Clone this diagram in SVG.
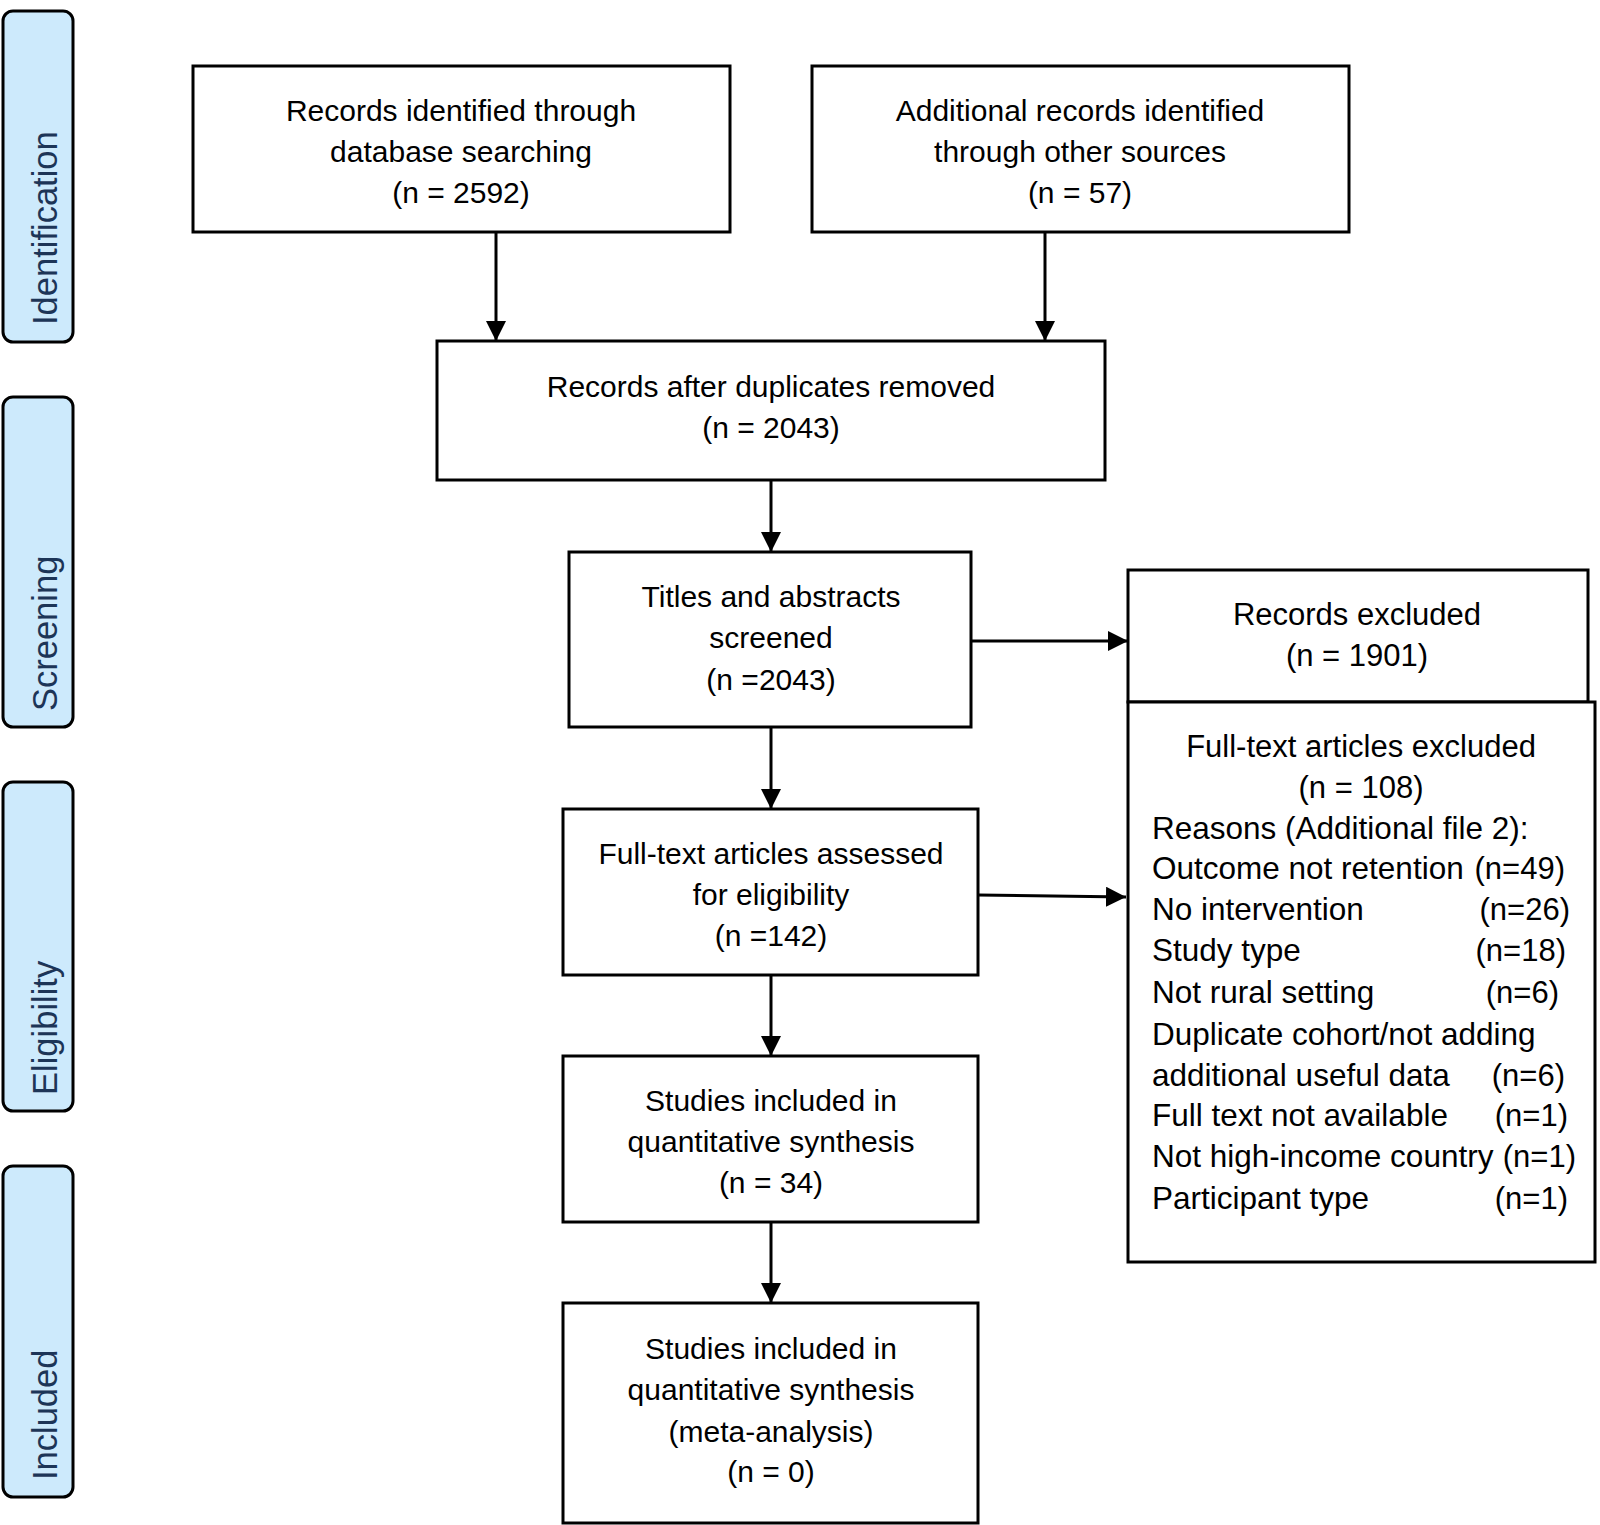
<svg xmlns="http://www.w3.org/2000/svg" width="1600" height="1525" viewBox="0 0 1600 1525">
<defs>
<style>
.box{fill:#fff;stroke:#000;stroke-width:3}
.phase{fill:#cdeafc;stroke:#000;stroke-width:3}
.ph{font-family:"Liberation Sans",Arial,sans-serif;font-size:34.5px;fill:#1d3557}
.t{font-family:"Liberation Sans",Arial,sans-serif;font-size:30px;fill:#000;text-anchor:middle}
.l{font-family:"Liberation Sans",Arial,sans-serif;font-size:31.5px;fill:#000}
.r{font-family:"Liberation Sans",Arial,sans-serif;font-size:31px;fill:#000;text-anchor:end}
.c{stroke:#000;stroke-width:3;fill:none;marker-end:url(#ah)}
</style>
<marker id="ah" markerUnits="userSpaceOnUse" markerWidth="20" markerHeight="20" viewBox="0 0 20 20" refX="20" refY="10" orient="auto">
<path d="M0,0 L20,10 L0,20 z" fill="#000"/>
</marker>
</defs>
<rect width="1600" height="1525" fill="#fff"/>

<g id="phase-identification"><rect class="phase" x="3" y="11" width="70" height="331" rx="10"/><text class="ph" transform="translate(57,325) rotate(-90)">Identification</text></g>
<g id="phase-screening"><rect class="phase" x="3" y="397" width="70" height="330" rx="10"/><text class="ph" transform="translate(57,711) rotate(-90)">Screening</text></g>
<g id="phase-eligibility"><rect class="phase" x="3" y="782" width="70" height="329" rx="10"/><text class="ph" transform="translate(57,1095) rotate(-90)">Eligibility</text></g>
<g id="phase-included"><rect class="phase" x="3" y="1166" width="70" height="331" rx="10"/><text class="ph" transform="translate(57,1480) rotate(-90)">Included</text></g>

<g id="connectors">
<line class="c" x1="496" y1="232" x2="496" y2="341"/>
<line class="c" x1="1045" y1="232" x2="1045" y2="341"/>
<line class="c" x1="771" y1="480" x2="771" y2="552"/>
<line class="c" x1="971" y1="641" x2="1128" y2="641"/>
<line class="c" x1="771" y1="727" x2="771" y2="809"/>
<line class="c" x1="978" y1="895" x2="1126" y2="897"/>
<line class="c" x1="771" y1="975" x2="771" y2="1056"/>
<line class="c" x1="771" y1="1222" x2="771" y2="1303"/>
</g>

<g id="db-records"><rect class="box" x="193" y="66" width="537" height="166"/>
<text class="t" x="461" y="121">Records identified through</text>
<text class="t" x="461" y="162">database searching</text>
<text class="t" x="461" y="203">(n = 2592)</text></g>

<g id="other-records"><rect class="box" x="812" y="66" width="537" height="166"/>
<text class="t" x="1080" y="121">Additional records identified</text>
<text class="t" x="1080" y="162">through other sources</text>
<text class="t" x="1080" y="203">(n = 57)</text></g>

<g id="dedup"><rect class="box" x="437" y="341" width="668" height="139"/>
<text class="t" x="771" y="397">Records after duplicates removed</text>
<text class="t" x="771" y="438">(n = 2043)</text></g>

<g id="screened"><rect class="box" x="569" y="552" width="402" height="175"/>
<text class="t" x="771" y="607">Titles and abstracts</text>
<text class="t" x="771" y="648">screened</text>
<text class="t" x="771" y="690">(n =2043)</text></g>

<g id="records-excluded"><rect class="box" x="1128" y="570" width="460" height="132"/>
<text class="t" x="1357" y="625" style="font-size:31px">Records excluded</text>
<text class="t" x="1357" y="666" style="font-size:31px">(n = 1901)</text></g>

<g id="fulltext-excluded"><rect class="box" x="1128" y="702" width="467" height="560"/>
<text class="t" x="1361" y="757" style="font-size:31px">Full-text articles excluded</text>
<text class="t" x="1361" y="798" style="font-size:31px">(n = 108)</text>
<text class="l" x="1152" y="839">Reasons (Additional file 2):</text>
<text class="l" x="1152" y="879">Outcome not retention</text><text class="r" x="1565" y="879">(n=49)</text>
<text class="l" x="1152" y="920">No intervention</text><text class="r" x="1570" y="920">(n=26)</text>
<text class="l" x="1152" y="961">Study type</text><text class="r" x="1566" y="961">(n=18)</text>
<text class="l" x="1152" y="1003">Not rural setting</text><text class="r" x="1559" y="1003">(n=6)</text>
<text class="l" x="1152" y="1045">Duplicate cohort/not adding</text>
<text class="l" x="1152" y="1086">additional useful data</text><text class="r" x="1565" y="1086">(n=6)</text>
<text class="l" x="1152" y="1126">Full text not available</text><text class="r" x="1568" y="1126">(n=1)</text>
<text class="l" x="1152" y="1167">Not high-income country</text><text class="r" x="1576" y="1167">(n=1)</text>
<text class="l" x="1152" y="1209">Participant type</text><text class="r" x="1568" y="1209">(n=1)</text></g>

<g id="assessed"><rect class="box" x="563" y="809" width="415" height="166"/>
<text class="t" x="771" y="864">Full-text articles assessed</text>
<text class="t" x="771" y="905">for eligibility</text>
<text class="t" x="771" y="946">(n =142)</text></g>

<g id="qualitative"><rect class="box" x="563" y="1056" width="415" height="166"/>
<text class="t" x="771" y="1111">Studies included in</text>
<text class="t" x="771" y="1152">quantitative synthesis</text>
<text class="t" x="771" y="1193">(n = 34)</text></g>

<g id="meta"><rect class="box" x="563" y="1303" width="415" height="220"/>
<text class="t" x="771" y="1359">Studies included in</text>
<text class="t" x="771" y="1400">quantitative synthesis</text>
<text class="t" x="771" y="1442">(meta-analysis)</text>
<text class="t" x="771" y="1482">(n = 0)</text></g>
</svg>
